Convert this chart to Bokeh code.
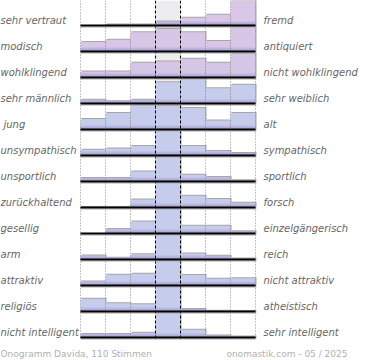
from bokeh.plotting import figure
from bokeh.models import Range1d, ColumnDataSource
from bokeh.core.properties import value
from bokeh.embed import file_html
from bokeh.resources import INLINE

left_labels = ["sehr vertraut", "modisch", "wohlklingend", "sehr männlich", " jung",
               "unsympathisch", "unsportlich", "zurückhaltend", "gesellig", "arm",
               "attraktiv", "religiös", "nicht intelligent"]
right_labels = ["fremd", "antiquiert", "nicht wohlklingend", "sehr weiblich", "alt",
                "sympathisch", "sportlich", "forsch", "einzelgängerisch", "reich",
                "nicht attraktiv", "atheistisch", "sehr intelligent"]

# share of votes per scale step (bar height, % of row height; middle often clipped)
r_vertraut = [0, 4, 4, 15, 30, 41, 94]
r_modisch = [37, 45, 74, 87, 74, 40, 96]
r_wohlklingend = [23, 23, 57, 62, 72, 57, 91]
r_maennlich = [14, 9, 14, 82, 97, 59, 72]
r_jung = [40, 63, 92, 90, 83, 35, 63]
r_unsympathisch = [22, 27, 37, 100, 37, 17, 10]
r_unsportlich = [13, 13, 38, 100, 26, 17, 5]
r_zurueckhaltend = [2, 2, 31, 100, 45, 33, 18]
r_gesellig = [0, 17, 46, 100, 30, 30, 9]
r_arm = [15, 7, 20, 100, 23, 14, 4]
r_attraktiv = [15, 41, 45, 100, 40, 26, 28]
r_religioes = [49, 32, 28, 100, 10, 3, 2]
r_intelligent = [13, 13, 18, 100, 30, 8, 4]

rows = [r_vertraut, r_modisch, r_wohlklingend, r_maennlich, r_jung, r_unsympathisch,
        r_unsportlich, r_zurueckhaltend, r_gesellig, r_arm, r_attraktiv, r_religioes,
        r_intelligent]
row_colors = ["#dac6e6", "#d8c6e6", "#d6c6e6"] + ["#c6cceb"] * 10

footer_left = "Onogramm Davida, 110 Stimmen"
footer_right = "onomastik.com - 05 / 2025"

W, H = 370, 360
PX_X = 25.0   # px per column
PX_Y = 26.0   # px per row
x0px, y0px = 80.0, 25.0
x_range = Range1d(-x0px / PX_X, (W - x0px) / PX_X)
y_range = Range1d((H - y0px) / PX_Y, -y0px / PX_Y)

p = figure(width=W, height=H, x_range=x_range, y_range=y_range,
           output_backend="svg", toolbar_location=None, min_border=0,
           x_axis_location=None, y_axis_location=None)
p.grid.visible = False
p.outline_line_color = None
p.background_fill_color = "white"
p.border_fill_color = "white"

n = len(rows)
ncol = 7
top_y = y_range.end

# middle column background
p.quad(left=[3], right=[4], top=[top_y], bottom=[n - 1], fill_color="#ededef", line_color=None)

sh = dict(left=[], right=[], top=[], bottom=[])
bars = dict(left=[], right=[], top=[], bottom=[], color=[])
strip1 = dict(left=[], right=[], top=[], bottom=[])
strip2 = dict(left=[], right=[], top=[], bottom=[])
dx = 1 / PX_X
dy = 1 / PX_Y
for k, vals in enumerate(rows):
    for c, v in enumerate(vals):
        h = min(v, 100) / 100.0
        if h <= 0:
            continue
        sh["left"].append(c + dx); sh["right"].append(c + 1 + dx)
        sh["top"].append(k - h - dy); sh["bottom"].append(k)
        bars["left"].append(c); bars["right"].append(c + 1)
        bars["top"].append(k - h); bars["bottom"].append(k)
        bars["color"].append(row_colors[k])
        strip1["left"].append(c); strip1["right"].append(c + 1)
        strip1["top"].append(k - min(h, 4 * dy)); strip1["bottom"].append(k)
        strip2["left"].append(c); strip2["right"].append(c + 1)
        strip2["top"].append(k - min(h, 2 * dy)); strip2["bottom"].append(k)

p.quad(source=ColumnDataSource(sh), left="left", right="right", top="top", bottom="bottom",
       fill_color="#a6a6a6", line_color=None)
p.quad(source=ColumnDataSource(bars), left="left", right="right", top="top", bottom="bottom",
       fill_color="color", line_color=None)
p.quad(source=ColumnDataSource(strip1), left="left", right="right", top="top", bottom="bottom",
       fill_color="#b3acd8", line_color=None, fill_alpha=0.6)
p.quad(source=ColumnDataSource(strip2), left="left", right="right", top="top", bottom="bottom",
       fill_color="#9f96cc", line_color=None, fill_alpha=0.7)

# vertical guide lines
dotted = [0, 1, 2, 5, 6, 7]
p.segment(x0=dotted, x1=dotted, y0=[top_y] * len(dotted), y1=[n - 1 + 0.05] * len(dotted),
          line_color="#888888", line_width=1, line_dash="1 2")
dashed = [3, 4]
p.segment(x0=dashed, x1=dashed, y0=[top_y] * 2, y1=[n - 1 + 0.05] * 2,
          line_color="black", line_width=1, line_dash="3 2")

# baselines
ks = list(range(n))
p.segment(x0=[0] * n, x1=[ncol + dx] * n, y0=[k + 1.5 * dy for k in ks], y1=[k + 1.5 * dy for k in ks],
          line_color="#aaaaaa", line_width=1)
p.segment(x0=[0] * n, x1=[ncol] * n, y0=ks, y1=ks, line_color="black", line_width=2)

# labels
lab_y = [k - 5.5 * dy for k in ks]
left_x = [x_range.start + (3 / PX_X if s.startswith(" ") else 0) for s in left_labels]
p.text(x=left_x, y=lab_y, text=left_labels, text_font=value("DejaVu Sans"),
       text_font_style="italic", text_font_size="10px", text_color="#666666",
       text_align="left", text_baseline="middle")
p.text(x=[(263 - x0px) / PX_X] * n, y=lab_y, text=right_labels, text_font=value("DejaVu Sans"),
       text_font_style="italic", text_font_size="10px", text_color="#666666",
       text_align="left", text_baseline="middle")

fy = (353 - y0px) / PX_Y
p.text(x=[x_range.start], y=[fy], text=[footer_left], text_font=value("DejaVu Sans"),
       text_font_size="9px", text_color="#b0b0b0", text_align="left", text_baseline="middle")
p.text(x=[(347 - x0px) / PX_X], y=[fy], text=[footer_right], text_font=value("DejaVu Sans"),
       text_font_size="9px", text_color="#b0b0b0", text_align="right", text_baseline="middle")

html = file_html(p, INLINE)
html = html.replace("<head>", "<head><style>html,body{margin:0;padding:0;overflow:hidden}</style>", 1)
open("out.html", "w").write(html)
